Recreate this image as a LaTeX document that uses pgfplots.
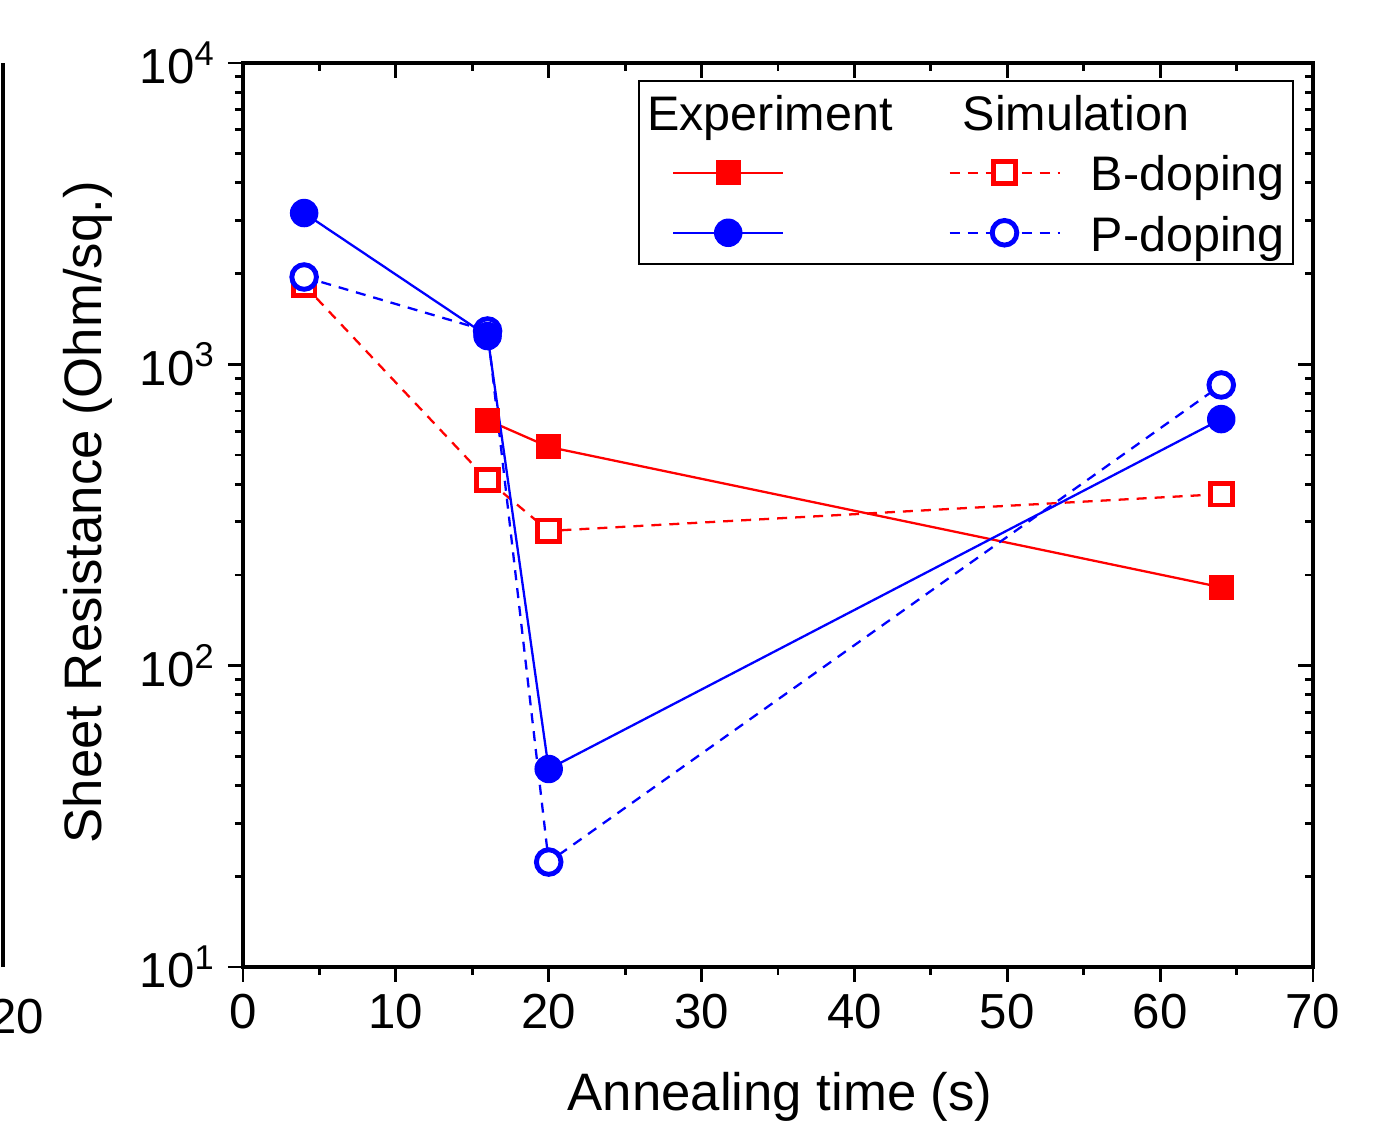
\documentclass[border=0pt]{standalone}
\usepackage{fontspec}
\setmainfont{Liberation Sans}
\usepackage{pgfplots}
\usepackage{pgfplotstable}
\pgfplotsset{compat=1.18}

% Sheet resistance (Ohm/sq.) vs annealing time (s)
\pgfplotstableread{
t   R
16  653
20  532
64  182
}\expB
\pgfplotstableread{
t   R
4   1833
16  413
20  280
64  371
}\simB
\pgfplotstableread{
t   R
4   3177
16  1241
20  45.4
64  658
}\expP
\pgfplotstableread{
t   R
4   1949
16  1290
20  22.3
64  854
}\simP

\definecolor{cred}{RGB}{255,0,0}
\definecolor{cblue}{RGB}{0,0,255}

\tikzset{
  sexpB/.style={cred, solid, line width=0.65pt, mark=square*, mark size=3.4pt,
    mark options={solid, fill=cred, line width=0.3pt}},
  ssimB/.style={cred, dash pattern=on 0.1cm off 0.08cm, line width=0.65pt, mark=square*, mark size=3.1pt,
    mark options={solid, fill=white, line width=1.4pt}},
  sexpP/.style={cblue, solid, line width=0.65pt, mark=*, mark size=3.9pt,
    mark options={solid, fill=cblue, line width=0.3pt}},
  ssimP/.style={cblue, dash pattern=on 0.1cm off 0.08cm, line width=0.65pt, mark=*, mark size=3.5pt,
    mark options={solid, fill=white, line width=1.4pt}},
}

\begin{document}
\begin{tikzpicture}
% neighbouring panel, cut off at the left edge
\draw[line width=0.9pt] (-2.40,0) -- (-2.40,9.04);
\node[anchor=east, font=\fontsize{14}{17}\selectfont, inner sep=0pt] at (-1.98,-0.50) {20};

\begin{axis}[
  scale only axis, width=10.70cm, height=9.04cm,
  xmin=0, xmax=70, ymode=log, ymin=10, ymax=10000,
  xtick={0,10,...,70}, minor x tick num=1,
  ytick={10,100,1000,10000},
  major tick length=0.15cm, minor tick length=0.08cm,
  axis line style={line width=0.9pt},
  tick style={black, line width=0.8pt},
  tick align=outside, xtick pos=left, ytick pos=left,
  /pgf/number format/assume math mode=true,
  yticklabels={10\textsuperscript{1},10\textsuperscript{2},10\textsuperscript{3},10\textsuperscript{4}},
  ticklabel style={font=\fontsize{14}{17}\selectfont},
  xlabel={Annealing time (s)},
  ylabel={Sheet Resistance (Ohm/sq.)},
  label style={font=\fontsize{15}{18}\selectfont},
  xlabel style={at={(axis description cs:0.502,-0.144)}, anchor=center},
  ylabel style={at={(axis description cs:-0.145,0.503)}, anchor=center},
  legend columns=2,
  legend image code/.code={
    \path (0cm,0cm) (1.65cm,0cm);
    \draw[mark repeat=2, mark phase=2, #1] plot coordinates {(0.30cm,0cm) (0.85cm,0cm) (1.40cm,0cm)};
  },
  legend style={at={(axis description cs:0.982,0.981)}, anchor=north east,
    draw=black, line width=0.5pt, inner xsep=0.03cm, inner ysep=0.08cm,
    column sep=0pt, row sep=0.13cm,
    font=\fontsize{13.8}{17}\selectfont,
    nodes={inner xsep=0.05cm, inner ysep=0pt}},
  legend cell align=left,
]
\addplot[ssimB, forget plot] table[x=t, y=R] {\simB};
\addplot[sexpB, forget plot] table[x=t, y=R] {\expB};
\addplot[ssimP, forget plot] table[x=t, y=R] {\simP};
\addplot[sexpP, forget plot] table[x=t, y=R] {\expP};

\addlegendimage{empty legend}
\addlegendentry{\strut\makebox[0pt][l]{\hspace*{-1.67cm}Experiment}}
\addlegendimage{empty legend}
\addlegendentry{\strut\makebox[0pt][l]{\hspace*{-1.28cm}Simulation}}
\addlegendimage{sexpB}
\addlegendentry{\strut\hspace*{0.99cm}}
\addlegendimage{ssimB}
\addlegendentry{\strut B-doping}
\addlegendimage{sexpP}
\addlegendentry{\strut\hspace*{0.99cm}}
\addlegendimage{ssimP}
\addlegendentry{\strut P-doping}
\end{axis}

\begin{axis}[
  scale only axis, width=10.70cm, height=9.04cm,
  xmin=0, xmax=70, ymode=log, ymin=10, ymax=10000,
  xtick={0,10,...,70}, minor x tick num=1,
  ytick={10,100,1000,10000},
  major tick length=0.15cm, minor tick length=0.08cm,
  axis line style={line width=0.9pt},
  tick style={black, line width=0.8pt},
  tick align=inside, xtick pos=right, ytick pos=right,
  xticklabels={}, yticklabels={},
]
\addplot[draw=none, forget plot] coordinates {(30,100)};
\end{axis}

\pgfresetboundingbox
\path[use as bounding box] (-2.43,-1.58) rectangle (11.51,9.67);
\end{tikzpicture}
\end{document}
